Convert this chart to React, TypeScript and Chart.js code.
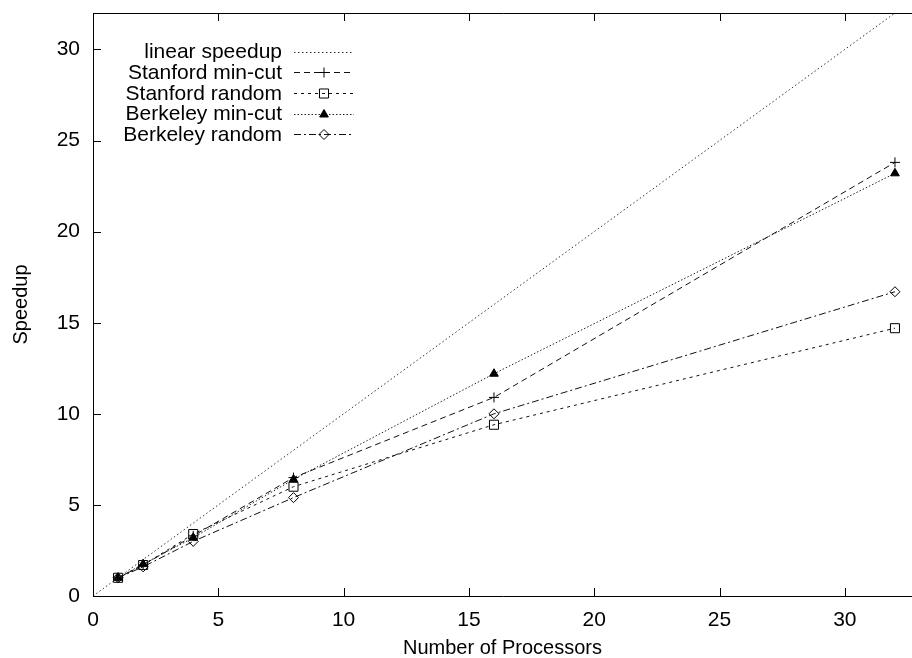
import React, { useEffect, useRef } from 'react';
import { Chart, registerables } from 'chart.js';
import { drawPoint } from 'chart.js/helpers';

Chart.register(...registerables);

// ---- data ----
const processors = [1, 2, 4, 8, 16, 32];
const linearX = [0, 33];
const linearY = [0, 33];
const stanfordMinCut = [1.0, 1.7, 3.3, 6.5, 10.9, 23.8];
const stanfordRandom = [1.0, 1.7, 3.4, 6.0, 9.4, 14.7];
const berkeleyMinCut = [1.0, 1.75, 3.2, 6.4, 12.2, 23.2];
const berkeleyRandom = [1.0, 1.6, 3.0, 5.4, 10.0, 16.7];
const seriesLabels = ['linear speedup', 'Stanford min-cut', 'Stanford random', 'Berkeley min-cut', 'Berkeley random'];
const xTitle = 'Number of Processors';
const yTitle = 'Speedup';

const FONT = '"Liberation Sans", Arial, Helvetica, sans-serif';
const FS = 21;

const pts = (xs: number[], ys: number[]) => xs.map((x, i) => ({ x, y: ys[i] }));

const framePlugin = {
  id: 'frame',
  afterDatasetsDraw(chart: any) {
    const { ctx, chartArea: a, scales } = chart;
    ctx.save();
    ctx.strokeStyle = '#000';
    ctx.lineWidth = 1;
    ctx.setLineDash([]);
    ctx.beginPath();
    ctx.moveTo(a.right + 2, a.top + 0.5);
    ctx.lineTo(a.left + 0.5, a.top + 0.5);
    ctx.lineTo(a.left + 0.5, a.bottom + 0.5);
    ctx.lineTo(a.right + 2, a.bottom + 0.5);
    ctx.stroke();
    const tl = 8;
    ctx.beginPath();
    scales.x.ticks.forEach((t: any) => {
      const px = Math.round(scales.x.getPixelForValue(t.value)) + 0.5;
      ctx.moveTo(px, a.bottom);
      ctx.lineTo(px, a.bottom - tl);
      ctx.moveTo(px, a.top);
      ctx.lineTo(px, a.top + tl);
    });
    scales.y.ticks.forEach((t: any) => {
      const py = Math.round(scales.y.getPixelForValue(t.value)) + 0.5;
      ctx.moveTo(a.left, py);
      ctx.lineTo(a.left + tl, py);
    });
    ctx.stroke();
    ctx.restore();
  },
};

const legendPlugin = {
  id: 'gpLegend',
  afterDraw(chart: any) {
    const { ctx } = chart;
    const textRight = 282;
    const x0 = 294;
    const x1 = 354;
    const y0 = 51.7;
    const step = 20.65;
    ctx.save();
    ctx.font = `${FS}px ${FONT}`;
    ctx.textAlign = 'right';
    ctx.textBaseline = 'middle';
    chart.data.datasets.forEach((ds: any, i: number) => {
      const y = y0 + i * step;
      ctx.fillStyle = '#000';
      ctx.fillText(ds.label, textRight, y + 1);
      ctx.strokeStyle = ds.borderColor;
      ctx.lineWidth = ds.borderWidth;
      ctx.setLineDash(ds.borderDash || []);
      ctx.beginPath();
      ctx.moveTo(x0, Math.round(y) + 0.5);
      ctx.lineTo(x1, Math.round(y) + 0.5);
      ctx.stroke();
      ctx.setLineDash([]);
      if (ds.pointRadius > 0) {
        ctx.strokeStyle = ds.pointBorderColor;
        ctx.fillStyle = ds.pointBackgroundColor;
        ctx.lineWidth = ds.pointBorderWidth;
        drawPoint(ctx, { pointStyle: ds.pointStyle, radius: ds.pointRadius, rotation: 0, borderWidth: ds.pointBorderWidth } as any, (x0 + x1) / 2, Math.round(y) + 0.5);
      }
    });
    ctx.restore();
  },
};

export default function App() {
  const ref = useRef<HTMLCanvasElement>(null);
  useEffect(() => {
    if (!ref.current) return;
    const base = {
      borderColor: '#111',
      borderWidth: 1,
      pointBorderColor: '#000',
      pointBorderWidth: 1,
      tension: 0,
      fill: false,
    };
    const chart = new Chart(ref.current, {
      type: 'line',
      data: {
        datasets: [
          { ...base, label: seriesLabels[0], data: pts(linearX, linearY), borderColor: '#333', borderDash: [1.5, 2.5], pointRadius: 0, pointStyle: 'circle', pointBackgroundColor: 'rgba(0,0,0,0)' },
          { ...base, label: seriesLabels[1], data: pts(processors, stanfordMinCut), borderDash: [6, 4], pointStyle: 'cross', pointRadius: 5, pointBackgroundColor: 'rgba(0,0,0,0)' },
          { ...base, label: seriesLabels[2], data: pts(processors, stanfordRandom), borderDash: [3, 4], pointStyle: 'rect', pointRadius: 6.4, pointBackgroundColor: 'rgba(0,0,0,0)' },
          { ...base, label: seriesLabels[3], data: pts(processors, berkeleyMinCut), borderColor: '#222', borderDash: [1.5, 2], pointStyle: 'triangle', pointRadius: 5, pointBackgroundColor: '#000' },
          { ...base, label: seriesLabels[4], data: pts(processors, berkeleyRandom), borderDash: [7, 3, 2, 3], pointStyle: 'rectRot', pointRadius: 5, pointBackgroundColor: 'rgba(0,0,0,0)' },
        ] as any,
      },
      options: {
        responsive: false,
        animation: false,
        layout: { autoPadding: false, padding: { top: 13, right: 0, left: 0, bottom: 0 } },
        plugins: { legend: { display: false }, tooltip: { enabled: false } },
        scales: {
          x: {
            type: 'linear',
            min: 0,
            max: 32.68,
            grid: { display: false, drawTicks: false },
            border: { display: false },
            ticks: { stepSize: 5, includeBounds: false, padding: 12, color: '#000', font: { family: FONT, size: FS }, maxRotation: 0 },
            title: { display: true, text: xTitle, color: '#000', font: { family: FONT, size: 20, lineHeight: 1 }, padding: { top: 0, bottom: 0 } },
            afterFit: (s: any) => { s.height = 62; s.paddingLeft = 0; s.paddingRight = 0; s.paddingTop = 0; s.paddingBottom = 0; },
          },
          y: {
            type: 'linear',
            min: 0,
            max: 32,
            grid: { display: false, drawTicks: false },
            border: { display: false },
            ticks: { stepSize: 5, includeBounds: false, padding: 13, color: '#000', font: { family: FONT, size: FS } },
            title: { display: true, text: yTitle, color: '#000', font: { family: FONT, size: 20, lineHeight: 1 }, padding: { top: 11, bottom: 0 } },
            afterFit: (s: any) => { s.width = 93; s.paddingLeft = 0; s.paddingRight = 0; s.paddingTop = 0; s.paddingBottom = 0; },
          },
        },
      } as any,
      plugins: [framePlugin, legendPlugin],
    });
    return () => chart.destroy();
  }, []);
  return (
    <div style={{ position: 'absolute', left: 0, top: 0, width: 912, height: 658, background: '#fff' }}>
      <canvas ref={ref} width={912} height={658} style={{ display: 'block' }} />
    </div>
  );
}
